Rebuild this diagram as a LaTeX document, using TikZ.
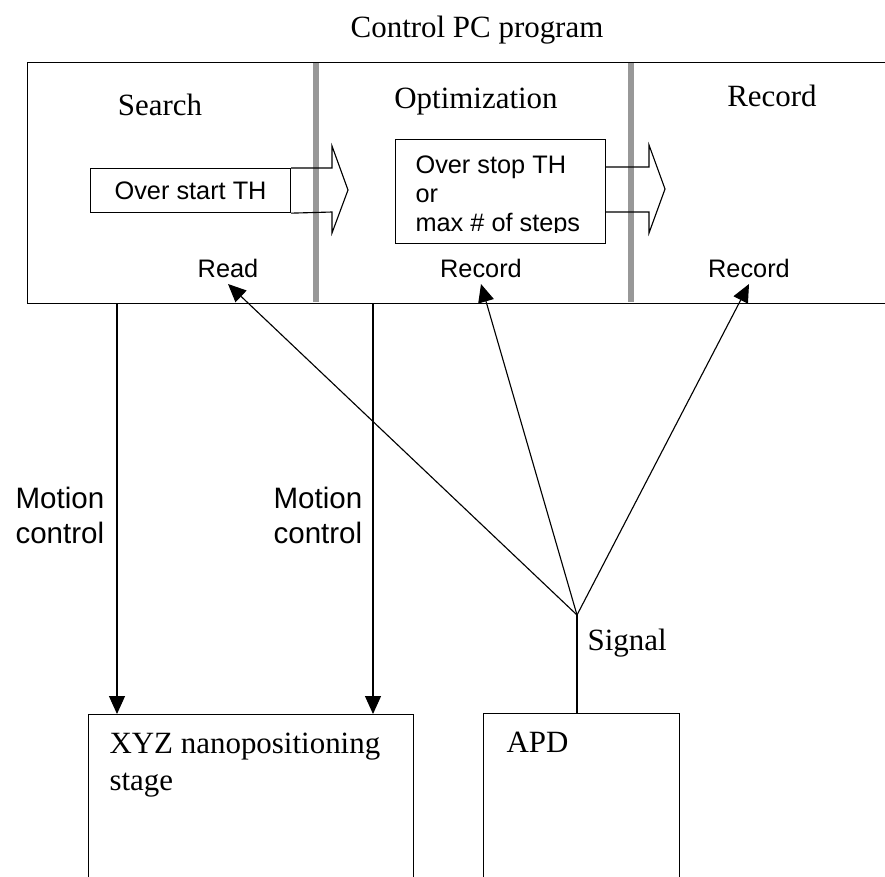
\documentclass[tikz,border=0pt]{standalone}
\usepackage{fontspec}
\setmainfont{Liberation Serif}
\setsansfont{Liberation Sans}
\usetikzlibrary{arrows.meta}
\definecolor{divgray}{RGB}{152,152,152}

\begin{document}
\begin{tikzpicture}[x=0.025cm,y=-0.025cm,line width=0.8pt,
  serif/.style={font=\fontsize{22}{26.3}\selectfont,inner sep=0pt},
  sanslbl/.style={font=\sffamily\fontsize{18}{20.6}\selectfont},
  motionlbl/.style={font=\sffamily\fontsize{21}{24.9}\selectfont,align=left,inner sep=0pt},
  box/.style={draw,line width=0.8pt,inner sep=0pt},
  arr/.style={-{Triangle[length=0.45cm,width=0.4cm]}},
  divider/.style={divgray,line width=4.3pt}]
\useasboundingbox (0,0) rectangle (885,876);
\clip (0,0) rectangle (885,876);
\node[serif,anchor=base] (title) at (477,37) {Control PC program};
% program box and its three stages
\node[box,anchor=north west,minimum width=21.6cm,minimum height=6.025cm] (prog) at (27,62) {};
\draw[divider] (316,63) -- (316,302);
\draw[divider] (631,63) -- (631,302);
\node[serif,anchor=base] (search) at (160,115) {Search};
\node[serif,anchor=base] (optim) at (476,108) {Optimization};
\node[serif,anchor=base] (record) at (772,106) {Record};
% threshold boxes and block arrows
\node[box,sanslbl,anchor=north west,minimum width=5cm,minimum height=1.1cm] (startbox) at (90,168) {Over start TH};
\draw (startbox.north east) -- (332,168) -- (332,146) -- (348,190) -- (332,233) -- (332,212) -- (startbox.south east);
\node[box,anchor=north west,minimum width=5.25cm,minimum height=2.6cm] (stopbox) at (395,139) {};
\begin{scope}
\clip (395,139) rectangle (605,232);
\node[sanslbl,anchor=north west,align=left,inner sep=0pt] (stoptxt) at (415,155) {Over stop TH\\or\\max \# of steps};
\end{scope}
\draw (605,167) -- (649,167) -- (649,145) -- (665,189) -- (649,233) -- (649,212) -- (605,212);
\node[sanslbl,anchor=south,inner sep=0.15cm] (read) at (228,284) {Read};
\node[sanslbl,anchor=south,inner sep=0.15cm] (recopt) at (481,284) {Record};
\node[sanslbl,anchor=south,inner sep=0.15cm] (recrec) at (749,284) {Record};
% devices
\node[box,anchor=north west,minimum width=8.125cm,minimum height=5cm] (stage) at (88,714) {};
\node[serif,anchor=north west,align=left] (stagetxt) at (109,732) {XYZ nanopositioning\\stage};
\node[box,anchor=north west,minimum width=4.9cm,minimum height=5cm] (apd) at (483,713) {};
\node[serif,anchor=base west] (apdtxt) at (506,752) {APD};
% motion control
\coordinate (m1) at (117,303);
\coordinate (m2) at (373,303);
\draw[arr] (m1) -- (m1 |- stage.north);
\draw[arr] (m2) -- (m2 |- stage.north);
\node[motionlbl,anchor=north west] (mot1) at (15,487) {Motion\\control};
\node[motionlbl,anchor=north west] (mot2) at (273,487) {Motion\\control};
% signal
\coordinate (sig) at (577,615);
\draw (sig) -- (sig |- apd.north);
\draw[arr] (sig) -- (read.south);
\draw[arr] (sig) -- (recopt.south);
\draw[arr] (sig) -- (recrec.south);
\node[serif,anchor=base west] (sigtxt) at (587,650) {Signal};
\end{tikzpicture}
\end{document}
